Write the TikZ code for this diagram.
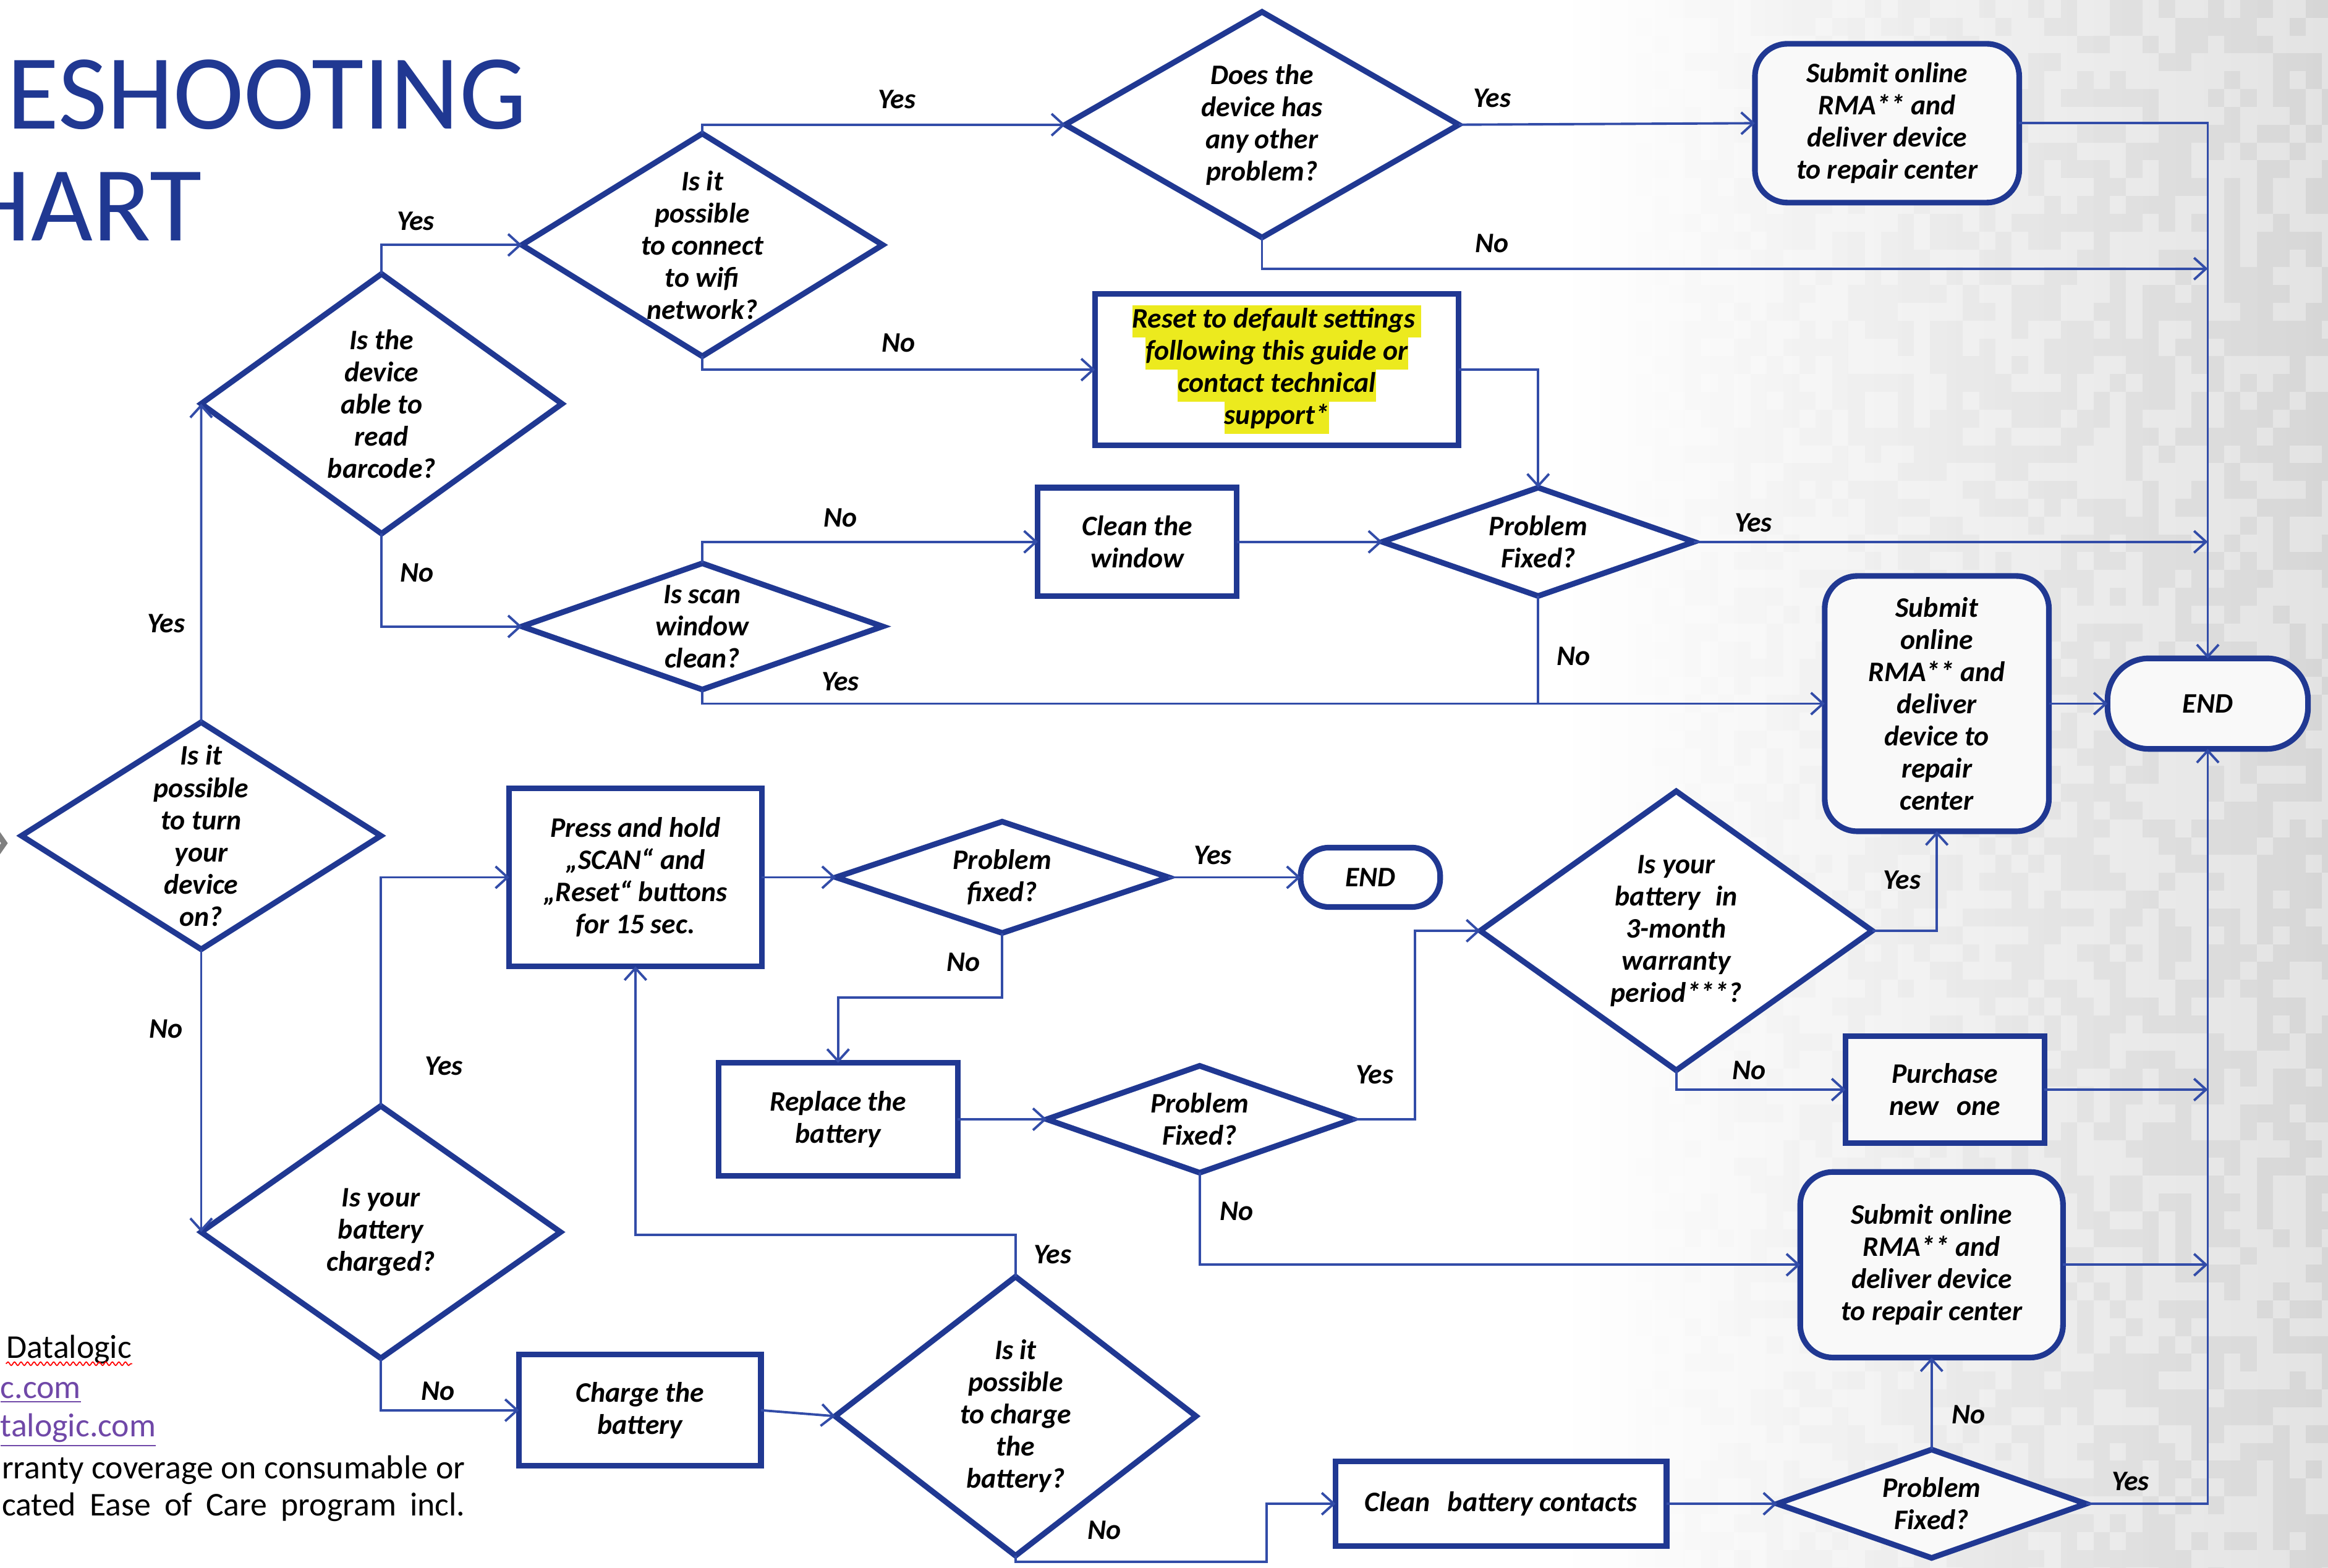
\documentclass[tikz,border=0pt]{standalone}
\usepackage{fontspec}
\setmainfont{Carlito}
\usetikzlibrary{shapes.geometric,arrows.meta,decorations.pathmorphing}
\definecolor{dblue}{RGB}{32,56,146}
\definecolor{lblue}{RGB}{50,76,168}
\definecolor{hyel}{RGB}{236,234,30}
\definecolor{lnk}{RGB}{112,72,168}
\def\p{*0.6827pt}
\newcommand\qfont{\fontsize{13}{14.8}\selectfont\bfseries\itshape}
\newcommand\ffont{\fontsize{15.3}{18}\selectfont}
\newcommand\hl[1]{{\setlength\fboxsep{0pt}\colorbox{hyel}{\strut #1}}}
\tikzset{
 shp/.style={draw=dblue, line width=2.6pt, fill=white, inner sep=0pt, outer sep=0pt, font=\qfont, align=center},
 dia/.style={shp, diamond},
 box/.style={shp, rectangle},
 rbox/.style={shp, rectangle, rounded corners=15pt, fill=gray!5},
 conn/.style={draw=lblue, line width=1.1pt},
 arr/.style={conn, -{Straight Barb[length=5.5pt,width=10pt,line width=1.1pt]}},
 lbl/.style={font=\qfont, inner sep=0pt, align=center},
 foot/.style={font=\ffont, inner sep=0pt, anchor=base west},
}
\begin{document}
\begin{tikzpicture}[x=0.6827pt,y=-0.6827pt]
\useasboundingbox (0,0) rectangle (1568,1056);
\clip (0,0) rectangle (1568,1056);
% background
\fill[white] (0,0) rectangle (1568,1056);
\fill[left color=white, right color=black!11] (1050,0) rectangle (1568,1056);
\pgfmathsetseed{12}
\foreach \i in {0,...,44}{\foreach \j in {0,...,88}{
  \pgfmathsetmacro\oo{(rnd>0.5)*0.055*\i/44}
  \fill[black,opacity=\oo] ({1080+\i*11},{\j*12}) rectangle ++(11,12);
}}
\draw[gray, line width=2.5pt] (-4,558) -- (3,568) -- (-4,578);

% title
\node[anchor=base east, inner sep=0pt, text=dblue, font=\fontsize{49}{55}\selectfont] (t1) at (355,87) {ESHOOTING};
\node[anchor=base east, inner sep=0pt, text=dblue, font=\fontsize{49}{55}\selectfont] (t2) at (136,162) {HART};

% footer
\node[foot] (f1) at (4,915) {Datalogic};
\draw[red, line width=0.5pt, decorate, decoration={snake, amplitude=0.8pt, segment length=3pt}] ([yshift=-2.5pt]f1.base west) -- ([yshift=-2.5pt]f1.base east);
\node[foot, text=lnk] (f2) at (0,942) {\underline{c.com}};
\node[foot, text=lnk] (f3) at (0,968) {\underline{talogic.com}};
\node[foot] (f4) at (1,996) {\makebox[213pt][s]{rranty coverage on consumable or}};
\node[foot] (f5) at (1,1021) {\makebox[213pt][s]{cated Ease of Care program incl.}};

% decisions
\node[dia, minimum width=242\p, minimum height=153\p, label={[lbl]center:Is it\\possible\\to turn\\your\\device\\on?}] (d1) at (135.5,563) {};
\node[dia, minimum width=243\p, minimum height=175\p, label={[lbl]center:Is the\\device\\able to\\read\\barcode?}] (d2) at (257,272) {};
\node[dia, minimum width=243\p, minimum height=150\p, label={[lbl]center:Is it\\possible\\to connect\\to wifi\\network?}] (d3) at (473,165) {};
\node[dia, minimum width=265\p, minimum height=152\p, label={[lbl]center:Does the\\device has\\any other\\problem?}] (d4) at (850,84) {};
\node[dia, minimum width=243\p, minimum height=85\p, label={[lbl]center:Is scan\\window\\clean?}] (dscan) at (473,422) {};
\node[dia, minimum width=210\p, minimum height=73\p, label={[lbl]center:Problem\\Fixed?}] (dpf3) at (1036,365) {};
\node[dia, minimum width=242\p, minimum height=170\p, label={[lbl]center:Is your\\battery\\charged?}] (dchg) at (256.5,830) {};
\node[dia, minimum width=224\p, minimum height=75\p, label={[lbl]center:Problem\\fixed?}] (dpf1) at (675,591) {};
\node[dia, minimum width=206\p, minimum height=72\p, label={[lbl]center:Problem\\Fixed?}] (dpf2) at (808,754) {};
\node[dia, minimum width=264\p, minimum height=188\p, label={[lbl]center:Is your\\battery\hspace{0.3em} in\\3-month\\warranty\\period***?}] (dwar) at (1129,627) {};
\node[dia, minimum width=243\p, minimum height=188\p, label={[lbl]center:Is it\\possible\\to charge\\the\\battery?}] (dcharge) at (684,954) {};
\node[dia, minimum width=208\p, minimum height=73\p, fill=gray!5, label={[lbl]center:Problem\\Fixed?}] (dpf4) at (1301,1013) {};

% process boxes
\node[box, minimum width=245\p, minimum height=102\p] (reset) at (860,249) {\hl{Reset to default settings }\\\hl{following this guide or}\\\hl{contact technical}\\\hl{support*}};
\node[box, minimum width=134\p, minimum height=73\p] (cleanw) at (766,365) {Clean the\\window};
\node[box, minimum width=170\p, minimum height=120\p] (press) at (428,591) {Press and hold\\„SCAN“ and\\„Reset“ buttons\\for 15 sec.};
\node[box, minimum width=161\p, minimum height=76\p] (replace) at (564.5,754) {Replace the\\battery};
\node[box, minimum width=163\p, minimum height=75\p] (charge) at (431,950) {Charge the\\battery};
\node[box, minimum width=223\p, minimum height=57\p] (cleanc) at (1011,1013) {Clean\hspace{0.4em} battery contacts};
\node[box, minimum width=134\p, minimum height=72\p, fill=gray!5] (purchase) at (1310,734) {Purchase\\new\hspace{0.4em} one};

% terminals
\node[rbox, minimum width=178\p, minimum height=107\p] (sub1) at (1271,83) {Submit online\\RMA** and\\deliver device\\to repair center};
\node[rbox, minimum width=151\p, minimum height=172\p] (sub2) at (1304.5,474) {Submit\\online\\RMA** and\\deliver\\device to\\repair\\center};
\node[rbox, minimum width=177\p, minimum height=125\p] (sub3) at (1301,852) {Submit online\\RMA** and\\deliver device\\to repair center};
\node[rbox, rounded corners=19pt, minimum width=135\p, minimum height=61\p] (endm) at (1487,474) {END};
\node[rbox, rounded corners=13pt, minimum width=94\p, minimum height=40\p, fill=white] (end2) at (923,591) {END};

% helper coordinates
\coordinate (c1) at (1487,181);
\coordinate (c2) at (1487,365);
\coordinate (c3) at (600,832);
\coordinate (c4) at (853,1052);
\coordinate (c5) at (1487,852);
\coordinate (c6) at (620,672);
\coordinate (c7) at (953,690);
\coordinate (c8) at (1487,734);

% connectors
\draw[arr] (d1.north) -- (d2.west);
\draw[arr] (d1.south) -- (dchg.west);
\draw[arr] (d2.north) |- (d3.west);
\draw[arr] (d2.south) |- (dscan.west);
\draw[arr] (d3.north) |- (d4.west);
\draw[arr] (d3.south) |- (reset.west);
\draw[arr] (d4.east) -- (sub1.west);
\draw[arr] (d4.south) |- (c1);
\draw[arr] (sub1.east) -| (endm.north);
\draw[arr] (reset.east) -| (dpf3.north);
\draw[arr] (dscan.north) |- (cleanw.west);
\draw[arr] (dscan.south) |- (sub2.west);
\draw[arr] (cleanw.east) -- (dpf3.west);
\draw[arr] (dpf3.east) -- (c2);
\draw[conn] (dpf3.south) -- (dpf3.south |- sub2.west);
\draw[arr] (sub2.east) -- (endm.west);
\draw[arr] (dchg.north) |- (press.west);
\draw[arr] (dchg.south) |- (charge.west);
\draw[arr] (charge.east) -- (dcharge.west);
\draw[arr] (dcharge.north) |- (c3) -| (press.south);
\draw[arr] (dcharge.south) |- (c4) |- (cleanc.west);
\draw[arr] (cleanc.east) -- (dpf4.west);
\draw[arr] (dpf4.north) -- (sub3.south);
\draw[arr] (dpf4.east) -| (endm.south);
\draw[arr] (sub3.east) -- (c5);
\draw[arr] (press.east) -- (dpf1.west);
\draw[arr] (dpf1.east) -- (end2.west);
\draw[arr] (dpf1.south) |- (c6) -| (replace.north);
\draw[arr] (replace.east) -- (dpf2.west);
\draw[arr] (dpf2.east) -| (c7) |- (dwar.west);
\draw[arr] (dpf2.south) |- (sub3.west);
\draw[arr] (dwar.east) -| (sub2.south);
\draw[arr] (dwar.south) |- (purchase.west);
\draw[arr] (purchase.east) -- (c8);

% branch labels
\node[lbl] (l1) at (112,420) {Yes};
\node[lbl] (l2) at (112,693) {No};
\node[lbl] (l3) at (280,149) {Yes};
\node[lbl] (l4) at (281,386) {No};
\node[lbl] (l5) at (604,67) {Yes};
\node[lbl] (l6) at (605,231) {No};
\node[lbl] (l7) at (1005,66) {Yes};
\node[lbl] (l8) at (1005,164) {No};
\node[lbl] (l9) at (566,349) {No};
\node[lbl] (l10) at (566,459) {Yes};
\node[lbl] (l11) at (1181,352) {Yes};
\node[lbl] (l12) at (1060,442) {No};
\node[lbl] (l13) at (299,718) {Yes};
\node[lbl] (l14) at (295,937) {No};
\node[lbl] (l15) at (817,576) {Yes};
\node[lbl] (l16) at (649,648) {No};
\node[lbl] (l17) at (926,724) {Yes};
\node[lbl] (l18) at (833,816) {No};
\node[lbl] (l19) at (1281,593) {Yes};
\node[lbl] (l20) at (1178,721) {No};
\node[lbl] (l21) at (709,845) {Yes};
\node[lbl] (l22) at (744,1031) {No};
\node[lbl] (l23) at (1326,953) {No};
\node[lbl] (l24) at (1435,998) {Yes};
\end{tikzpicture}
\end{document}
